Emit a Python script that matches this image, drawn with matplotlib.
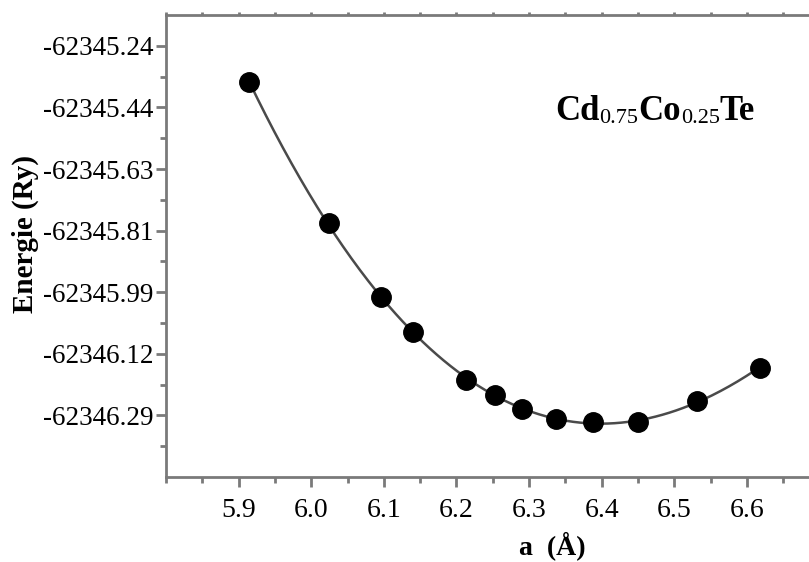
import numpy as np
import matplotlib
matplotlib.use("Agg")
import matplotlib.pyplot as plt
from matplotlib.ticker import MultipleLocator, FixedLocator

plt.rcParams['font.family'] = ['Liberation Serif', 'DejaVu Serif']

# lattice parameter (Angstrom) and total energy (Ry)
a_vals = [5.914, 6.024, 6.096, 6.140, 6.213, 6.253, 6.290, 6.337, 6.388, 6.450, 6.531, 6.618]
energy = [-62345.342, -62345.743, -62345.953, -62346.053, -62346.189, -62346.232,
          -62346.271, -62346.300, -62346.308, -62346.308, -62346.249, -62346.155]

# y tick labels as printed on the original axis (evenly spaced)
ytick_labels = ['-62345.24', '-62345.44', '-62345.63', '-62345.81',
                '-62345.99', '-62346.12', '-62346.29']
xtick_labels = ['5.9', '6.0', '6.1', '6.2', '6.3', '6.4', '6.5', '6.6']

y_top_tick = -62345.24
y_step = 0.175

W, H = 809, 562
fig = plt.figure(figsize=(W / 100, H / 100), dpi=100)
# axes run past the right edge, the original picture was cropped there
ax = fig.add_axes([166 / W, 85 / H, 772 / W, 462 / H])

# fitted curve (cubic fit through the points)
coef = np.polyfit(a_vals, energy, 3)
xs = np.linspace(a_vals[0], a_vals[-1], 300)
ax.plot(xs, np.polyval(coef, xs), color='#4a4a4a', lw=1.8, zorder=2)
ax.plot(a_vals, energy, 'o', color='black', ms=14, zorder=3)

ax.set_xlim(5.80, 5.80 + 772 / 726)
ax.set_ylim(y_top_tick - 7 * y_step, y_top_tick + 0.5 * y_step)

ax.xaxis.set_major_locator(FixedLocator([5.9 + 0.1 * i for i in range(len(xtick_labels))]))
ax.set_xticklabels(xtick_labels)
ax.xaxis.set_minor_locator(MultipleLocator(0.05))

yt = [y_top_tick - y_step * i for i in range(len(ytick_labels))]
ax.yaxis.set_major_locator(FixedLocator(yt))
ax.set_yticklabels(ytick_labels)
ax.yaxis.set_minor_locator(FixedLocator([v - y_step / 2 for v in yt]))

spine_col = '#7a7a7a'
for s in ['left', 'bottom', 'top']:
    ax.spines[s].set_color(spine_col)
    ax.spines[s].set_linewidth(2)
ax.spines['right'].set_visible(False)

ax.tick_params(axis='both', which='major', direction='out', length=7, width=2,
               color=spine_col, labelcolor='black')
ax.tick_params(axis='both', which='minor', direction='out', length=4, width=2,
               color=spine_col)
ax.tick_params(axis='x', which='major', pad=8, labelsize=20)
ax.tick_params(axis='y', which='major', pad=2, labelsize=19.5)

# short ticks on the top frame line
top = ax.secondary_xaxis('top')
top.xaxis.set_major_locator(MultipleLocator(0.05))
top.tick_params(length=2.5, width=2, color=spine_col, labeltop=False)
top.spines['top'].set_visible(False)

ax.set_xlabel('a  (Å)', fontsize=20, fontweight='bold', labelpad=6)
ax.set_ylabel('Energie (Ry)', fontsize=21, fontweight='bold')
ax.yaxis.set_label_coords(-0.1645, 0.525)

# compound label: big element symbols, smaller concentrations on the same baseline
parts = [('Cd', 25, 'bold'), ('0.75', 16, 'normal'), ('Co', 25, 'bold'),
         ('0.25', 16, 'normal'), ('Te', 25, 'bold')]
prev = fig.text(555 / W, 1 - 120 / H, parts[0][0], fontsize=parts[0][1],
                fontweight=parts[0][2], va='baseline', ha='left')
for txt, size, weight in parts[1:]:
    prev = ax.annotate(txt, xy=(1, 0), xycoords=prev,
                       fontsize=size, fontweight=weight, va='bottom', ha='left',
                       annotation_clip=False)

fig.savefig('out.png', dpi=100)
